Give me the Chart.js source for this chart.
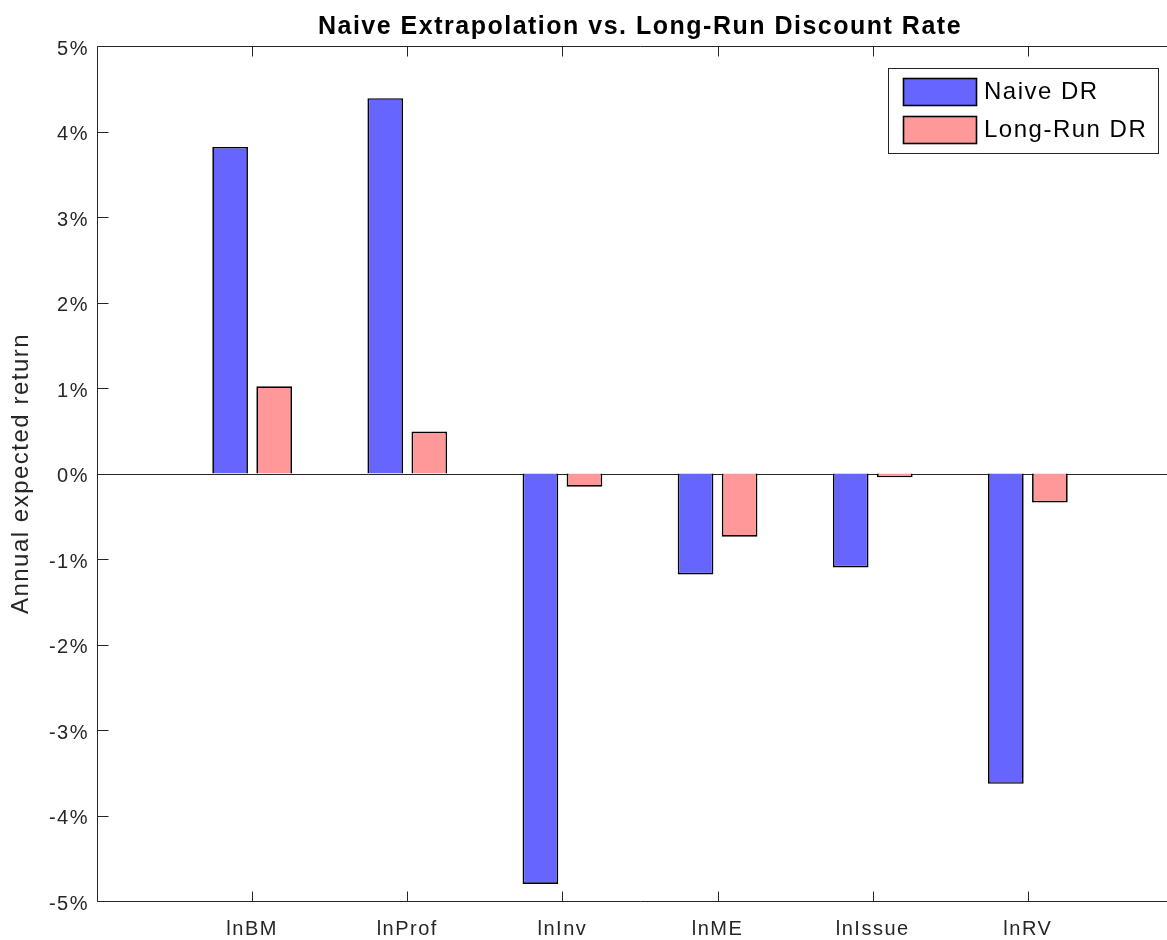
<!DOCTYPE html>
<html><head><meta charset="utf-8">
<script src="https://cdn.jsdelivr.net/npm/chart.js@4.4.1/dist/chart.umd.min.js"></script>
<style>
html,body{margin:0;padding:0;overflow:hidden;background:#fff}
#wrap{position:absolute;left:0;top:0;width:1200px;height:940px}
</style>
</head><body><div id="wrap"><canvas id="c" width="1200" height="940"></canvas></div>
<script>
const categories = ['lnBM', 'lnProf', 'lnInv', 'lnME', 'lnIssue', 'lnRV'];
const naiveDR = [3.82, 4.39, -4.80, -1.18, -1.10, -3.63];
const longRunDR = [1.02, 0.49, -0.155, -0.74, -0.045, -0.34];
const yTicks = [-5, -4, -3, -2, -1, 0, 1, 2, 3, 4, 5];
const seriesNames = ['Naive DR', 'Long-Run DR'];
const seriesColors = ['#6666FF', '#FF9999'];
const titleText = 'Naive Extrapolation vs. Long-Run Discount Rate';
const yAxisLabel = 'Annual expected return';

const FONT = '"Liberation Sans", Arial, Helvetica, sans-serif';
const AXIS = '#262626';

const spacingPlugin = {
  id: 'spacing',
  beforeLayout(chart) { chart.ctx.letterSpacing = '1.5px'; },
  beforeDraw(chart) { chart.ctx.letterSpacing = '1.5px'; }
};

const framePlugin = {
  id: 'frame',
  beforeDatasetsDraw(chart) {
    const {ctx, chartArea: a, scales: {y}} = chart;
    const y0 = Math.round(y.getPixelForValue(0)) + 0.5;
    ctx.save();
    ctx.strokeStyle = AXIS; ctx.lineWidth = 1;
    ctx.beginPath(); ctx.moveTo(a.left, y0); ctx.lineTo(a.right, y0); ctx.stroke();
    ctx.restore();
  },
  afterDatasetsDraw(chart) {
    const {ctx, chartArea: a, scales: {x, y}} = chart;
    const L = Math.round(a.left) + 0.5, T = Math.round(a.top) + 0.5, B = Math.round(a.bottom) + 0.5, R = a.right + 0.5;
    ctx.save();
    ctx.strokeStyle = AXIS; ctx.lineWidth = 1;
    ctx.beginPath();
    ctx.moveTo(R, T); ctx.lineTo(L, T); ctx.lineTo(L, B); ctx.lineTo(R, B);
    y.ticks.forEach(t => {
      const py = Math.round(y.getPixelForValue(t.value)) + 0.5;
      ctx.moveTo(L, py); ctx.lineTo(L + 11, py);
    });
    x.ticks.forEach(t => {
      const px = Math.round(x.getPixelForValue(t.value)) + 0.5;
      ctx.moveTo(px, T); ctx.lineTo(px, T + 10);
      ctx.moveTo(px, B); ctx.lineTo(px, B - 10);
    });
    ctx.stroke();
    ctx.restore();
  }
};

const legendPlugin = {
  id: 'boxLegend',
  afterDraw(chart) {
    const ctx = chart.ctx;
    ctx.save();
    ctx.fillStyle = '#fff'; ctx.fillRect(888.5, 68.5, 270, 85);
    ctx.strokeStyle = AXIS; ctx.lineWidth = 1; ctx.strokeRect(888.5, 68.5, 270, 85);
    chart.data.datasets.forEach((ds, i) => {
      const py = 78 + i * 38;
      ctx.fillStyle = ds.backgroundColor; ctx.fillRect(903, py, 74, 28);
      ctx.strokeStyle = '#000'; ctx.lineWidth = 1.6; ctx.strokeRect(903.5, py + 0.5, 73, 27);
      ctx.fillStyle = '#000';
      ctx.font = '24px ' + FONT;
      ctx.letterSpacing = '1.5px';
      ctx.textBaseline = 'middle'; ctx.textAlign = 'left';
      ctx.fillText(ds.label, 984, py + 14.5);
    });
    ctx.restore();
  }
};

const toPoints = arr => arr.map((v, i) => ({x: i + 1, y: v}));

new Chart(document.getElementById('c'), {
  type: 'bar',
  data: {
    datasets: [
      {label: seriesNames[0], data: toPoints(naiveDR), backgroundColor: seriesColors[0], borderColor: '#000', borderWidth: 1.7,
       categoryPercentage: 0.568, barPercentage: 0.81},
      {label: seriesNames[1], data: toPoints(longRunDR), backgroundColor: seriesColors[1], borderColor: '#000', borderWidth: 1.7,
       categoryPercentage: 0.568, barPercentage: 0.81}
    ]
  },
  options: {
    responsive: false,
    animation: false,
    devicePixelRatio: 1,
    layout: {padding: {left: 0, right: 17, top: 0, bottom: 0}},
    plugins: {
      legend: {display: false},
      tooltip: {enabled: false},
      title: {display: true, fullSize: false, text: titleText, color: '#000',
        font: {family: FONT, size: 25, weight: 'bold'}, padding: {top: 12, bottom: 4}}
    },
    scales: {
      x: {
        type: 'linear', min: 0, max: 7, offset: false,
        afterBuildTicks(s) { s.ticks = categories.map((c, i) => ({value: i + 1})); },
        afterFit(s) { s.height = 39; },
        grid: {display: false, drawTicks: false}, border: {display: false},
        ticks: {autoSkip: false, maxRotation: 0, padding: 16, color: AXIS,
          font: {family: FONT, size: 20},
          callback: v => categories[v - 1] ?? ''}
      },
      y: {
        type: 'linear', min: -5, max: 5,
        afterBuildTicks(s) { s.ticks = yTicks.map(v => ({value: v})); },
        afterFit(s) { s.width = 97; },
        grid: {display: false, drawTicks: false}, border: {display: false},
        ticks: {padding: 8, labelOffset: 3, color: AXIS, font: {family: FONT, size: 20},
          callback: v => v + '%'},
        title: {display: true, text: yAxisLabel, color: AXIS, font: {family: FONT, size: 24},
          padding: {top: 7.3, bottom: 0}}
      }
    }
  },
  plugins: [spacingPlugin, framePlugin, legendPlugin]
});
</script>
</body></html>
